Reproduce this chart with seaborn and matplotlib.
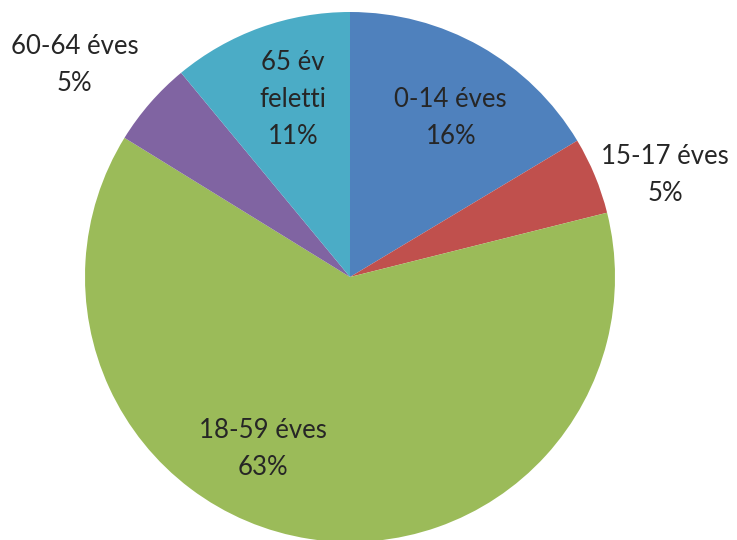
import matplotlib
matplotlib.use('Agg')
import matplotlib.pyplot as plt
import seaborn as sns

sns.set_theme(style='white')
plt.rcParams['font.family'] = ['Lato', 'DejaVu Sans']

# age groups, shares (clockwise from top)
categories = ['0-14 éves', '15-17 éves', '18-59 éves', '60-64 éves', '65 év\nfeletti']
shares = [16.4, 4.7, 62.7, 5.2, 11.0]
colors = ['#4F81BD', '#C0504D', '#9BBB59', '#8064A2', '#4BACC6']

# where each label sits (data coords, pie radius = 1)
label_pos = [(0.38, 0.60), (1.19, 0.385), (-0.33, -0.65), (-1.04, 0.80), (-0.215, 0.668)]

fig = plt.figure(figsize=(7.37, 5.40), dpi=100)
ax = fig.add_axes([85 / 737, -2 / 540, 530 / 737, 530 / 540])

ax.pie(shares, colors=colors, startangle=90, counterclock=False, radius=1,
       wedgeprops=dict(linewidth=0))
ax.set_xlim(-1, 1)
ax.set_ylim(-1, 1)
ax.set_aspect('equal')
ax.axis('off')

total = sum(shares)
for cat, val, (x, y) in zip(categories, shares, label_pos):
    ax.text(x, y, f'{cat}\n{round(val / total * 100):.0f}%', ha='center', va='center',
            fontsize=18.5, color='#262626', linespacing=1.6, clip_on=False)

fig.savefig('out.png', dpi=100)
